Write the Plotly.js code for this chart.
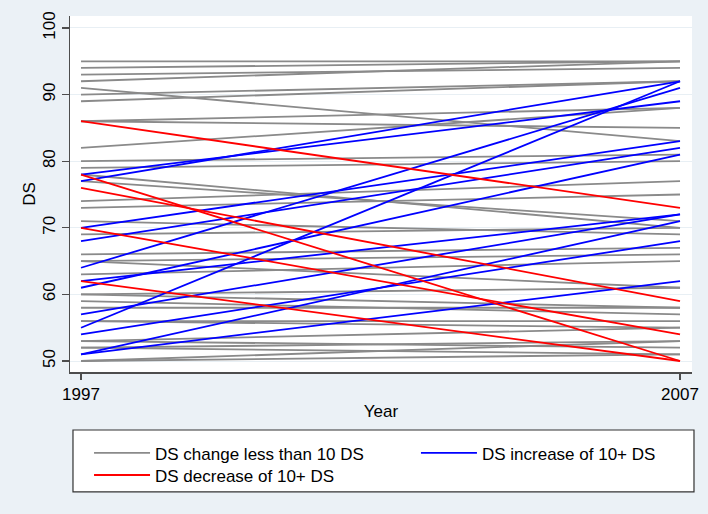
<!DOCTYPE html>
<html>
<head>
<meta charset="utf-8">
<script src="https://cdn.plot.ly/plotly-3.0.1.min.js"></script>
<style>
  html, body { margin: 0; padding: 0; background: #ebf1f6; }
  #chart { width: 708px; height: 514px; }
</style>
</head>
<body>
<div id="chart"></div>
<script>
// Years on the x axis
const years = [1997, 2007];

// DS change less than 10 DS (gray)
const grayStart = [95, 94, 93, 92, 91, 90, 89, 86, 86, 82, 80, 79, 78, 77, 74, 73,
                   71, 69, 66, 65, 65, 63, 60, 60, 59, 58, 56, 56, 53, 53, 52, 52, 50, 50];
const grayEnd   = [95, 95, 94, 95, 83, 92, 92, 88, 85, 88, 81, 80, 70, 71, 77, 75,
                   69, 70, 67, 66, 61, 65, 61, 58, 57, 58, 56, 55, 55, 52, 53, 51, 53, 51];

// DS increase of 10+ DS (blue)
const blueStart = [78, 77, 70, 68, 64, 62, 61, 57, 55, 54, 51, 51];
const blueEnd   = [89, 92, 83, 82, 91, 72, 81, 72, 92, 68, 71, 62];

// DS decrease of 10+ DS (red)
const redStart = [86, 78, 76, 70, 62];
const redEnd   = [73, 50, 59, 54, 50];

const seriesNames = ["DS change less than 10 DS", "DS increase of 10+ DS", "DS decrease of 10+ DS"];
const yTicks = [50, 60, 70, 80, 90, 100];

function segs(starts, ends) {
  const x = [], y = [];
  for (let i = 0; i < starts.length; i++) {
    x.push(years[0], years[1], null);
    y.push(starts[i], ends[i], null);
  }
  return {x, y};
}

const g = segs(grayStart, grayEnd);
const b = segs(blueStart, blueEnd);
const r = segs(redStart, redEnd);

const font = {family: "Liberation Sans, Arial, sans-serif", size: 17, color: "#000"};

const traces = [
  {x: g.x, y: g.y, mode: "lines", name: seriesNames[0], legend: "legend",
   line: {color: "#8a8a8a", width: 1.8}, connectgaps: false},
  {x: b.x, y: b.y, mode: "lines", name: seriesNames[1], legend: "legend2",
   line: {color: "#0000ff", width: 1.8}, connectgaps: false},
  {x: r.x, y: r.y, mode: "lines", name: seriesNames[2], legend: "legend3",
   line: {color: "#ff0000", width: 1.8}, connectgaps: false}
];

function legendAt(x, y) {
  return {
    orientation: "v", x: x, xanchor: "left", y: y, yanchor: "top",
    bgcolor: "rgba(0,0,0,0)", borderwidth: 0, itemwidth: 56, font: font
  };
}

const layout = {
  width: 708, height: 514,
  paper_bgcolor: "#ebf1f6",
  plot_bgcolor: "#ffffff",
  font: font,
  margin: {l: 70, r: 16, t: 16, b: 142},
  showlegend: true,
  xaxis: {
    range: [1996.816, 2007.2],
    tickvals: years, ticktext: years.map(String),
    showgrid: false, zeroline: false,
    showline: true, linecolor: "#4d4d4d", linewidth: 1.5,
    ticks: "outside", ticklen: 6, tickwidth: 1.2, tickcolor: "#4d4d4d",
    tickfont: font,
    title: {text: "Year", font: font, standoff: 2}
  },
  yaxis: {
    range: [48.35, 101.8],
    tickvals: yTicks, ticktext: yTicks.map(String),
    tickangle: -90,
    showgrid: true, gridcolor: "#e8eff4", gridwidth: 1,
    zeroline: false,
    showline: true, linecolor: "#4d4d4d", linewidth: 1.5,
    ticks: "outside", ticklen: 7, tickwidth: 1.2, tickcolor: "#4d4d4d",
    tickfont: font,
    title: {text: "DS", font: font, standoff: 0}
  },
  legend: legendAt(0.0306, -0.178),
  legend2: legendAt(0.5562, -0.178),
  legend3: legendAt(0.0306, -0.240),
  shapes: [{
    type: "rect", xref: "paper", yref: "paper",
    x0: 0.0048, x1: 1.0032, y0: -0.337, y1: -0.1629,
    fillcolor: "#ffffff", line: {color: "#333333", width: 1.2},
    layer: "below"
  }]
};

Plotly.newPlot("chart", traces, layout, {displayModeBar: false, staticPlot: true});
</script>
</body>
</html>
